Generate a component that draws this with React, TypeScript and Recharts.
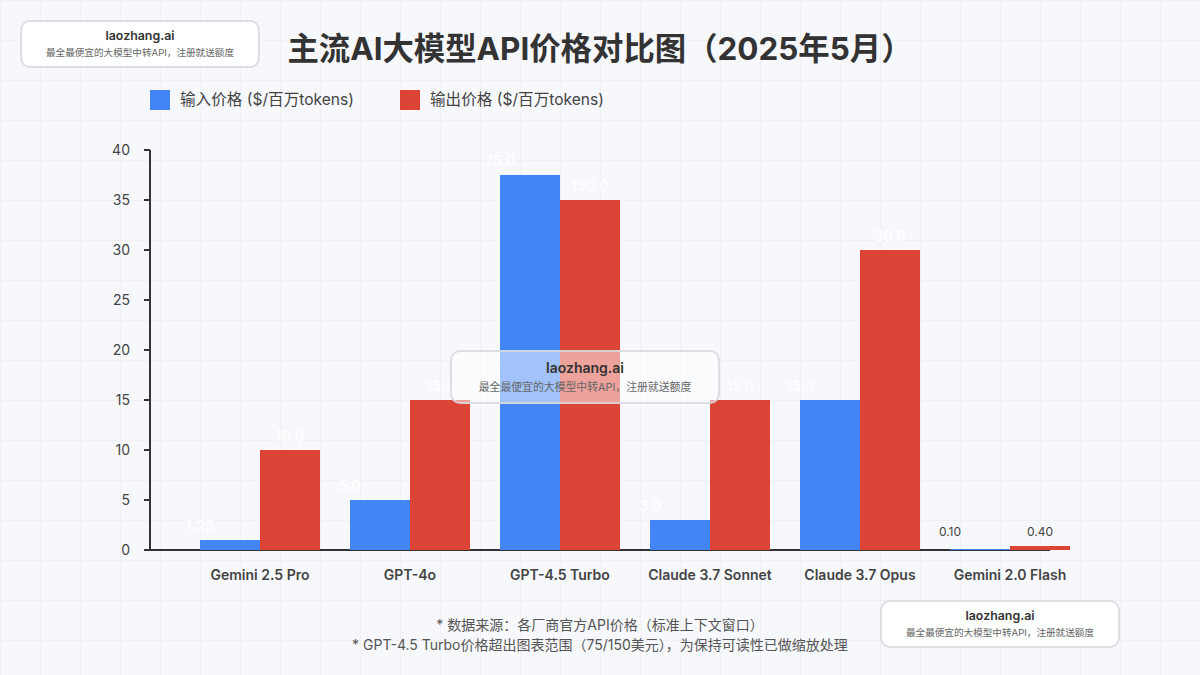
import React from "react";
import { BarChart, Bar, XAxis, YAxis, Legend, LabelList } from "recharts";

const categories = ["Gemini 2.5 Pro", "GPT-4o", "GPT-4.5 Turbo", "Claude 3.7 Sonnet", "Claude 3.7 Opus", "Gemini 2.0 Flash"];
const inputValues = [1, 5, 37.5, 3, 15, 0.1];
const outputValues = [10, 15, 35, 15, 30, 0.4];
const inputLabels = ["1.25", "5.0", "75.0", "3.0", "15.0", "0.10"];
const outputLabels = ["10.0", "15.0", "150.0", "15.0", "30.0", "0.40"];
const yTicks = [0, 5, 10, 15, 20, 25, 30, 35, 40];
const inputName = "输入价格 ($/百万tokens)";
const outputName = "输出价格 ($/百万tokens)";
const titleText = "主流AI大模型API价格对比图（2025年5月）";
const notes = ["* 数据来源：各厂商官方API价格（标准上下文窗口）", "* GPT-4.5 Turbo价格超出图表范围（75/150美元），为保持可读性已做缩放处理"];
const brand = "laozhang.ai";
const slogan = "最全最便宜的大模型中转API，注册就送额度";

const data = categories.map((name, i) => ({
  name,
  input: inputValues[i],
  output: outputValues[i],
  inputLabel: inputLabels[i],
  outputLabel: outputLabels[i],
}));

const FONT = "Inter, 'Noto Sans CJK SC', sans-serif";
const BLUE = "#4285f4";
const RED = "#db4437";

const makeLabel = (centered: boolean) => (props: any) => {
  const { x, y, width, height, value } = props;
  const small = String(value).startsWith("0.");
  return (
    <text
      x={centered ? x + width / 2 : x}
      y={small ? y + height - 19 : y - 15}
      textAnchor="middle"
      dominantBaseline="central"
      fontFamily={FONT}
      fontSize={small ? 12 : 14.5}
      fontWeight={small ? 400 : 500}
      fill={small ? "#444444" : "#ffffff"}
    >
      {value}
    </text>
  );
};

const LegendContent = () => (
  <div style={{ position: "relative", width: 500, height: 20, fontFamily: FONT, fontSize: 15.6, color: "#444" }}>
    {[
      { left: 0, color: BLUE, text: inputName },
      { left: 250, color: RED, text: outputName },
    ].map((e) => (
      <div key={e.text} style={{ position: "absolute", left: e.left, top: 0, display: "flex", alignItems: "center", height: 20 }}>
        <span style={{ width: 20, height: 20, background: e.color, display: "inline-block", marginRight: 10 }} />
        <span style={{ whiteSpace: "nowrap", position: "relative", top: -2 }}>{e.text}</span>
      </div>
    ))}
  </div>
);

const Card = ({ left, top, width, height, bg, large }: any) => (
  <div
    style={{
      position: "absolute",
      left,
      top,
      width,
      height,
      boxSizing: "border-box",
      background: bg,
      border: "2px solid rgba(214,216,220,0.85)",
      borderRadius: 10,
      textAlign: "center",
      fontFamily: FONT,
      display: "flex",
      flexDirection: "column",
      justifyContent: "center",
    }}
  >
    <div style={{ fontSize: large ? 14 : 12.4, fontWeight: 600, color: "#333", lineHeight: large ? "20px" : "18px" }}>{brand}</div>
    <div style={{ fontSize: large ? 10.85 : 9.6, color: "#666", lineHeight: large ? "18px" : "16px" }}>{slogan}</div>
  </div>
);

export default function App() {
  return (
    <div
      style={{
        position: "absolute",
        left: 0,
        top: 0,
        width: 1200,
        height: 675,
        overflow: "hidden",
        backgroundColor: "#f6f8fc",
        backgroundImage:
          "linear-gradient(to right, #eff1f5 1px, transparent 1px), linear-gradient(to bottom, #eff1f5 1px, transparent 1px)",
        backgroundSize: "40px 40px",
      }}
    >
      <BarChart
        width={1200}
        height={675}
        data={data}
        margin={{ top: 130, right: 150, bottom: 95, left: 90 }}
        barGap={0}
        barCategoryGap={15}
        style={{ position: "absolute", left: 0, top: 0 }}
      >
        <XAxis
          dataKey="name"
          padding={{ left: 35, right: -35 }}
          height={30}
          interval={0}
          tickLine={false}
          axisLine={{ stroke: "#333", strokeWidth: 2 }}
          tick={{ fontFamily: FONT, fontSize: 14, fontWeight: 600, fill: "#444" }}
          tickMargin={14}
          {...({ zIndex: 100 } as any)}
        />
        <YAxis
          width={60}
          domain={[0, 40]}
          ticks={yTicks}
          interval={0}
          axisLine={{ stroke: "#333", strokeWidth: 2 }}
          tickLine={{ stroke: "#333", strokeWidth: 2 }}
          tickSize={6}
          tickMargin={14}
          tick={{ fontFamily: FONT, fontSize: 14, fill: "#444" }}
          {...({ zIndex: 100 } as any)}
        />
        <Legend
          verticalAlign="top"
          height={0}
          content={LegendContent}
          wrapperStyle={{ position: "absolute", left: 150, top: 90, width: 500 }}
        />
        <Bar dataKey="input" name={inputName} fill={BLUE} barSize={60} isAnimationActive={false}>
          <LabelList dataKey="inputLabel" content={makeLabel(false)} />
        </Bar>
        <Bar dataKey="output" name={outputName} fill={RED} barSize={60} isAnimationActive={false}>
          <LabelList dataKey="outputLabel" content={makeLabel(true)} />
        </Bar>
      </BarChart>

      <div
        style={{
          position: "absolute",
          left: 0,
          width: 1200,
          top: 26,
          textAlign: "center",
          fontFamily: FONT,
          fontSize: 31.4,
          fontWeight: 700,
          color: "#333",
          lineHeight: "46px",
          whiteSpace: "nowrap",
        }}
      >
        {titleText}
      </div>

      <div style={{ position: "absolute", left: 0, width: 1200, top: 615, textAlign: "center", fontFamily: FONT, fontSize: 14, color: "#555", lineHeight: "20px" }}>
        {notes.map((n) => (
          <div key={n}>{n}</div>
        ))}
      </div>

      <Card left={20} top={20} width={240} height={48} bg="rgba(255,255,255,0.9)" />
      <Card left={450} top={350} width={270} height={54} bg="rgba(255,255,255,0.5)" large />
      <Card left={880} top={600} width={240} height={48} bg="rgba(255,255,255,0.9)" />
    </div>
  );
}
